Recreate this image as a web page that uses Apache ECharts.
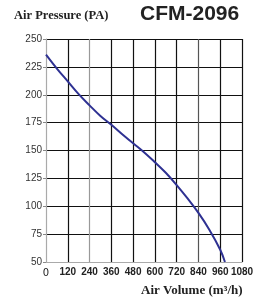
<!DOCTYPE html>
<html>
<head>
<meta charset="utf-8">
<script src="https://cdn.jsdelivr.net/npm/echarts@6/dist/echarts.min.js"></script>
<style>
  html, body { margin: 0; padding: 0; background: #fff; }
  #chart { width: 268px; height: 305px; }
</style>
</head>
<body>
<div id="chart"></div>
<script>
// 风量 (m3/h) 和 风压 (PA)
var airVolume = [0, 60, 120, 180, 240, 300, 360, 420, 480, 540, 600, 660, 720, 780, 840, 900, 960, 986];
var airPressure = [236, 223.5, 212, 200.5, 190.5, 181, 173, 164.5, 156.5, 148.5, 139.5, 130, 119, 107, 94, 79, 61, 50];
var xTicks = [0, 120, 240, 360, 480, 600, 720, 840, 960, 1080];
var yTicks = [50, 75, 100, 125, 150, 175, 200, 225, 250];

function initEcharts() {
    var myChart = echarts.init(document.getElementById("chart"));
    var points = [];
    for (let i = 0; i < airVolume.length; i++) {
        points.push([airVolume[i], airPressure[i]]);
    }

    var option = {
        animation: false,
        grid: {
            left: 46,
            right: 26,
            top: 39,
            bottom: 43
        },
        graphic: [{
            type: 'text',
            left: 14,
            top: 9,
            style: {
                text: 'Air Pressure (PA)',
                font: 'bold 12.5px "Liberation Serif"',
                fill: '#222'
            }
        }, {
            type: 'text',
            left: 140,
            top: 4,
            style: {
                text: 'CFM-2096',
                font: 'bold 21px "Liberation Sans"',
                fill: '#222'
            }
        }, {
            type: 'text',
            left: 141,
            top: 284,
            style: {
                text: 'Air Volume (m\u00b3/h)',
                font: 'bold 13px "Liberation Serif"',
                fill: '#222'
            }
        }],
        xAxis: {
            type: 'value',
            min: xTicks[0],
            max: xTicks[xTicks.length - 1],
            interval: 120,
            axisLine: { lineStyle: { color: '#aaa', width: 1 } },
            axisTick: { show: false },
            axisLabel: {
                margin: 5,
                fontSize: 10,
                fontWeight: 'bold',
                fontFamily: '"Liberation Sans"',
                color: '#222',
                formatter: function (v) {
                    return v === 0 ? '{z|0}' : String(v);
                },
                rich: {
                    z: {
                        fontSize: 10,
                        fontWeight: 'normal',
                        fontFamily: '"DejaVu Sans"',
                        color: '#222',
                        padding: [1, 0, 0, 0]
                    }
                }
            },
            splitLine: {
                show: true,
                lineStyle: {
                    color: ['#aaa', '#111', '#999', '#111', '#111', '#111', '#111', '#555', '#111', '#111'],
                    width: 1.2
                }
            }
        },
        yAxis: {
            type: 'value',
            min: yTicks[0],
            max: yTicks[yTicks.length - 1],
            interval: 25,
            axisLine: { show: true, lineStyle: { color: '#aaa', width: 1 } },
            axisTick: { show: true, length: 3, lineStyle: { color: '#888' } },
            axisLabel: {
                margin: 4,
                fontSize: 10,
                fontFamily: '"Liberation Sans"',
                color: '#333'
            },
            splitLine: {
                show: true,
                lineStyle: {
                    color: ['#aaa', '#111', '#111', '#111', '#111', '#111', '#111', '#111', '#111'],
                    width: 1.2
                }
            }
        },
        series: [{
            name: 'CFM-2096',
            type: 'line',
            data: points,
            smooth: 0.4,
            showSymbol: false,
            lineStyle: {
                color: '#2e3192',
                width: 2
            },
            z: 5
        }]
    };

    myChart.setOption(option);
}

initEcharts();
</script>
</body>
</html>
